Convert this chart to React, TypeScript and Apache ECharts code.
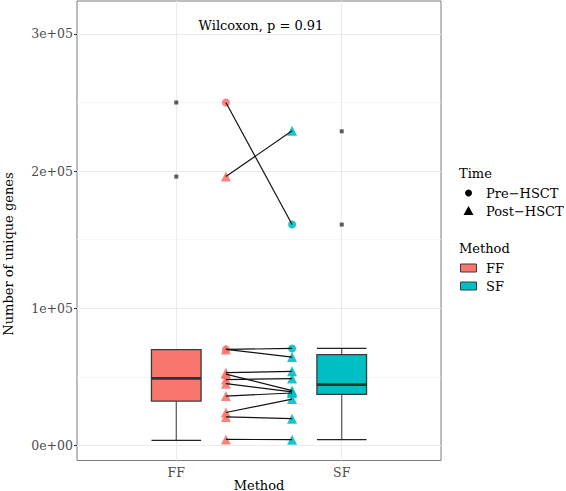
import React, { useEffect, useRef } from "react";
import * as echarts from "echarts";

// ---- data ----
const methods = ["FF", "SF"];
const methodColors = ["#F8766D", "#00BFC4"];
const yTicks = [0, 100000, 200000, 300000];
const yTickLabels = ["0e+00", "1e+05", "2e+05", "3e+05"];
const yMinorTicks = [50000, 150000, 250000];
// box stats: [min, q1, median, q3, max]
const ffBox = [3700, 32300, 48900, 69900, 69900];
const sfBox = [4200, 37200, 44300, 66200, 70800];
const ffOutliers = [250000, 196000];
const sfOutliers = [229000, 161000];
// paired samples
const pairFF = [250000, 196000, 70000, 70000, 53000, 52000, 48000, 45000, 36000, 24000, 20800, 4400];
const pairSF = [161000, 229400, 70700, 64400, 54000, 40000, 48700, 39000, 38200, 33800, 19500, 4200];
const pairTime = ["Pre", "Post", "Pre", "Post", "Post", "Post", "Post", "Post", "Post", "Post", "Post", "Post"];
const testLabel = "Wilcoxon, p = 0.91";

const SERIF = "'DejaVu Serif', serif";

export default function App() {
  const ref = useRef<HTMLDivElement>(null);
  useEffect(() => {
    if (!ref.current) return;
    const chart = echarts.init(ref.current, undefined, { renderer: "svg" });
    const ffX = 1.3;
    const sfX = 1.7;
    const boxHalf = 0.15;

    const gridLines: any[] = [];
    yTicks.forEach((v) => gridLines.push({ yAxis: v, lineStyle: { color: "#EBEBEB", width: 1.1, type: "solid" } }));
    yMinorTicks.forEach((v) => gridLines.push({ yAxis: v, lineStyle: { color: "#F2F2F2", width: 0.7, type: "solid" } }));
    [1, 2].forEach((v) => gridLines.push({ xAxis: v, lineStyle: { color: "#EBEBEB", width: 1.1, type: "solid" } }));

    const mkScatter = (method: number, time: string) => {
      const data: number[][] = [];
      pairTime.forEach((t, i) => {
        if (t !== time) return;
        data.push(method === 0 ? [ffX, pairFF[i]] : [sfX, pairSF[i]]);
      });
      return {
        type: "scatter",
        z: 4,
        symbol: time === "Pre" ? "circle" : "triangle",
        symbolSize: time === "Pre" ? 8 : 10,
        itemStyle: { color: methodColors[method], opacity: 0.9 },
        data,
        silent: true,
      };
    };

    const option: any = {
      animation: false,
      grid: { left: 77, right: 125, top: 1, bottom: 30.5, show: true, borderColor: "#7a7a7a", borderWidth: 1, backgroundColor: "#fff" },
      xAxis: {
        type: "value",
        min: 0.4,
        max: 2.6,
        axisLine: { show: false },
        splitLine: { show: false },
        axisTick: { show: true, customValues: [1, 2], length: 3, lineStyle: { color: "#333" } },
        axisLabel: {
          customValues: [1, 2],
          formatter: (v: number) => (Math.abs(v - 1) < 1e-6 ? methods[0] : Math.abs(v - 2) < 1e-6 ? methods[1] : ""),
          color: "#4D4D4D",
          fontFamily: SERIF,
          fontSize: 12.5,
          margin: 5,
        },
      },
      yAxis: {
        type: "value",
        min: -11000,
        max: 324000,
        axisLine: { show: false },
        splitLine: { show: false },
        axisTick: { show: true, customValues: yTicks, length: 3, lineStyle: { color: "#333" } },
        axisLabel: {
          customValues: yTicks,
          formatter: (v: number) => {
            const i = yTicks.indexOf(v);
            return i >= 0 ? yTickLabels[i] : "";
          },
          color: "#4D4D4D",
          fontFamily: SERIF,
          fontSize: 12.5,
          margin: 4,
        },
      },
      series: [
        {
          type: "line",
          data: [],
          z: 1,
          silent: true,
          markLine: { silent: true, symbol: ["none", "none"], label: { show: false }, data: gridLines, z: 1 },
        },
        {
          type: "custom",
          z: 3,
          silent: true,
          data: [
            [1, ...ffBox],
            [2, ...sfBox],
          ],
          encode: { x: 0, y: [1, 2, 3, 4, 5] },
          renderItem: (params: any, api: any) => {
            const x = api.value(0);
            const mn = api.value(1), q1 = api.value(2), md = api.value(3), q3 = api.value(4), mx = api.value(5);
            const pMax = api.coord([x, mx]);
            const pMin = api.coord([x, mn]);
            const tl = api.coord([x - boxHalf, q3]);
            const br = api.coord([x + boxHalf, q1]);
            const med = api.coord([x, md]);
            const color = methodColors[params.dataIndex];
            return {
              type: "group",
              children: [
                { type: "line", shape: { x1: pMax[0], y1: pMax[1], x2: pMax[0], y2: tl[1] }, style: { stroke: "#555", lineWidth: 1.2 } },
                { type: "line", shape: { x1: pMin[0], y1: pMin[1], x2: pMin[0], y2: br[1] }, style: { stroke: "#555", lineWidth: 1.2 } },
                { type: "line", shape: { x1: tl[0], y1: pMax[1], x2: br[0], y2: pMax[1] }, style: { stroke: "#222", lineWidth: 1.2 } },
                { type: "line", shape: { x1: tl[0], y1: pMin[1], x2: br[0], y2: pMin[1] }, style: { stroke: "#222", lineWidth: 1.2 } },
                { type: "rect", shape: { x: tl[0], y: tl[1], width: br[0] - tl[0], height: br[1] - tl[1] }, style: { fill: color, stroke: "#3a3a3a", lineWidth: 1.3 } },
                { type: "line", shape: { x1: tl[0], y1: med[1], x2: br[0], y2: med[1] }, style: { stroke: "#333", lineWidth: 2.6 } },
              ],
            };
          },
        },
        {
          type: "scatter",
          z: 3,
          silent: true,
          symbol: "rect",
          symbolSize: 4,
          itemStyle: { color: "#333" },
          data: [...ffOutliers.map((v) => [1, v]), ...sfOutliers.map((v) => [2, v])],
        },
        mkScatter(0, "Pre"),
        mkScatter(0, "Post"),
        mkScatter(1, "Pre"),
        mkScatter(1, "Post"),
        {
          type: "custom",
          z: 5,
          silent: true,
          data: pairFF.map((v, i) => [ffX, v, sfX, pairSF[i]]),
          encode: { x: [0, 2], y: [1, 3] },
          renderItem: (params: any, api: any) => {
            const a = api.coord([api.value(0), api.value(1)]);
            const b = api.coord([api.value(2), api.value(3)]);
            return { type: "line", shape: { x1: a[0], y1: a[1], x2: b[0], y2: b[1] }, style: { stroke: "#111", lineWidth: 1.2 } };
          },
        },
      ],
      graphic: [
        { type: "text", x: 261, y: 25, style: { text: testLabel, font: `13px ${SERIF}`, fill: "#000", align: "center", verticalAlign: "middle" } },
        { type: "text", x: 8, y: 254, rotation: Math.PI / 2, style: { text: "Number of unique genes", font: `13px ${SERIF}`, fill: "#000", align: "center", verticalAlign: "middle" } },
        { type: "text", x: 259, y: 485, style: { text: "Method", font: `13px ${SERIF}`, fill: "#000", align: "center", verticalAlign: "middle" } },
        { type: "text", x: 459, y: 173, style: { text: "Time", font: `13px ${SERIF}`, fill: "#000", align: "left", verticalAlign: "middle" } },
        { type: "circle", shape: { cx: 468.5, cy: 193, r: 3.5 }, style: { fill: "#000" } },
        { type: "polygon", shape: { points: [[468.5, 206], [473.5, 215], [463.5, 215]] }, style: { fill: "#000" } },
        { type: "text", x: 486, y: 193, style: { text: "Pre\u2212HSCT", font: `13px ${SERIF}`, fill: "#000", align: "left", verticalAlign: "middle" } },
        { type: "text", x: 486, y: 211, style: { text: "Post\u2212HSCT", font: `13px ${SERIF}`, fill: "#000", align: "left", verticalAlign: "middle" } },
        { type: "text", x: 459, y: 248, style: { text: "Method", font: `13px ${SERIF}`, fill: "#000", align: "left", verticalAlign: "middle" } },
        { type: "rect", shape: { x: 460.5, y: 264, width: 16, height: 8 }, style: { fill: methodColors[0], stroke: "#3a3a3a", lineWidth: 1 } },
        { type: "rect", shape: { x: 460.5, y: 282, width: 16, height: 8 }, style: { fill: methodColors[1], stroke: "#3a3a3a", lineWidth: 1 } },
        { type: "text", x: 486, y: 268, style: { text: methods[0], font: `13px ${SERIF}`, fill: "#000", align: "left", verticalAlign: "middle" } },
        { type: "text", x: 486, y: 286, style: { text: methods[1], font: `13px ${SERIF}`, fill: "#000", align: "left", verticalAlign: "middle" } },
      ],
    };
    chart.setOption(option);
    return () => chart.dispose();
  }, []);
  return <div ref={ref} style={{ position: "fixed", left: 0, top: 0, width: 566, height: 491, background: "#fff" }} />;
}
